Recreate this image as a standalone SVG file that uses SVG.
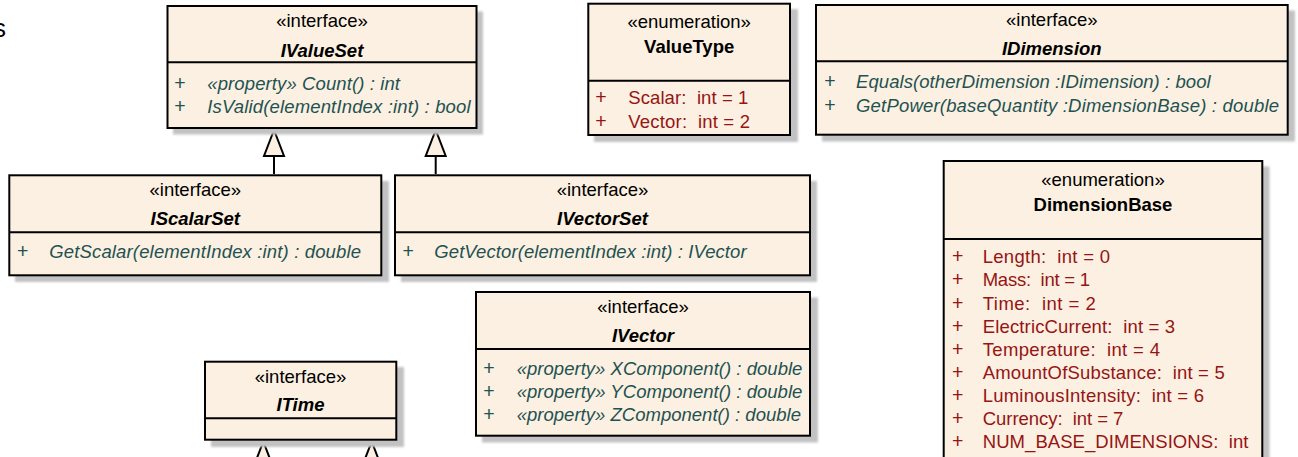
<svg xmlns="http://www.w3.org/2000/svg" width="1298" height="457" viewBox="0 0 1298 457">
<style>
text{font-family:"Liberation Sans",Arial,sans-serif;font-size:18.5px;fill:#000}
.c{text-anchor:middle}
.nm{font-weight:bold;font-style:italic}
.en{font-weight:bold}
.op{font-style:italic;fill:#1f5252}
.opp{fill:#1f5252;text-anchor:middle;font-size:19.5px}
.lit{fill:#961414;white-space:pre}
.litp{fill:#961414;text-anchor:middle;font-size:19.5px}
.box{fill:#fbf0e1;stroke:#000;stroke-width:2}
.sh{fill:#c2c2c2;filter:url(#blur)}
.div{stroke:#000;stroke-width:2}
.con{fill:none;stroke:#000;stroke-width:2;marker-end:url(#gen)}
</style>
<defs>
<filter id="blur" x="-5%" y="-5%" width="110%" height="110%"><feGaussianBlur stdDeviation="1.2"/></filter>
<marker id="gen" markerUnits="userSpaceOnUse" viewBox="-28 -12 30 24" refX="0" refY="0" markerWidth="30" markerHeight="24" orient="auto">
<path d="M0,0 L-26,-10 L-26,10 Z" fill="#fbf0e1" stroke="#000" stroke-width="2" stroke-linejoin="miter"/>
</marker>
</defs>
<rect width="1298" height="457" fill="#fff"/>
<text x="-7" y="36.5" style="font-size:26px">s</text>

<g id="connectors">
<path class="con" d="M274,174 L274,130"/>
<path class="con" d="M435.7,174 L435.7,130"/>
<path class="con" d="M263.3,475 L263.3,441.5"/>
<path class="con" d="M371.7,475 L371.7,441.5"/>
</g>

<g id="IValueSet">
<rect class="sh" x="173" y="11.5" width="310" height="123"/>
<rect class="box" x="167.5" y="6" width="309" height="122"/>
<line class="div" x1="167.5" y1="62.3" x2="476.5" y2="62.3"/>
<text class="c" x="322" y="27.3">«interface»</text>
<text class="c nm" x="322" y="57.3">IValueSet</text>
<text class="opp" x="180" y="90">+</text>
<text class="op" x="207.3" y="90" textLength="192.7" lengthAdjust="spacing">«property» Count() : int</text>
<text class="opp" x="180" y="112.7">+</text>
<text class="op" x="207.3" y="112.7" textLength="263.3" lengthAdjust="spacing">IsValid(elementIndex :int) : bool</text>
</g>

<g id="IScalarSet">
<rect class="sh" x="15" y="181" width="374" height="101"/>
<rect class="box" x="9.3" y="175.3" width="372" height="100"/>
<line class="div" x1="9.3" y1="232.3" x2="381.3" y2="232.3"/>
<text class="c" x="195.3" y="196">«interface»</text>
<text class="c nm" x="195.3" y="225">IScalarSet</text>
<text class="opp" x="22.7" y="257.7">+</text>
<text class="op" x="49.3" y="257.7" textLength="311.7" lengthAdjust="spacing">GetScalar(elementIndex :int) : double</text>
</g>

<g id="IVectorSet">
<rect class="sh" x="401" y="181" width="416" height="101"/>
<rect class="box" x="395" y="175.3" width="415" height="100"/>
<line class="div" x1="395" y1="232.3" x2="810" y2="232.3"/>
<text class="c" x="602.5" y="196">«interface»</text>
<text class="c nm" x="602.5" y="225">IVectorSet</text>
<text class="opp" x="408.3" y="257.7">+</text>
<text class="op" x="434.3" y="257.7" textLength="312.3" lengthAdjust="spacing">GetVector(elementIndex :int) : IVector</text>
</g>

<g id="ValueType">
<rect class="sh" x="594" y="9" width="204" height="133"/>
<rect class="box" x="588.3" y="3.7" width="201.7" height="131.3"/>
<line class="div" x1="588.3" y1="80.7" x2="790" y2="80.7"/>
<text class="c" x="689.2" y="28.3">«enumeration»</text>
<text class="c en" x="689.2" y="53.3">ValueType</text>
<text class="litp" x="601" y="104.3">+</text>
<text class="lit" x="628.3" y="104.3" textLength="120" lengthAdjust="spacing">Scalar:  int = 1</text>
<text class="litp" x="601" y="127.7">+</text>
<text class="lit" x="628.3" y="127.7" textLength="121.7" lengthAdjust="spacing">Vector:  int = 2</text>
</g>

<g id="IDimension">
<rect class="sh" x="822" y="10.5" width="473" height="131"/>
<rect class="box" x="816" y="5" width="471.7" height="129.7"/>
<line class="div" x1="816" y1="61.3" x2="1287.7" y2="61.3"/>
<text class="c" x="1051.8" y="26">«interface»</text>
<text class="c nm" x="1051.8" y="55">IDimension</text>
<text class="opp" x="830" y="87.7">+</text>
<text class="op" x="856" y="87.7" textLength="354.7" lengthAdjust="spacing">Equals(otherDimension :IDimension) : bool</text>
<text class="opp" x="830" y="111.7">+</text>
<text class="op" x="856" y="111.7" textLength="423" lengthAdjust="spacing">GetPower(baseQuantity :DimensionBase) : double</text>
</g>

<g id="DimensionBase">
<rect class="sh" x="949.5" y="166.5" width="320" height="320"/>
<rect class="box" x="943.7" y="161" width="318.6" height="320"/>
<line class="div" x1="943.7" y1="239" x2="1262.3" y2="239"/>
<text class="c" x="1103" y="186">«enumeration»</text>
<text class="c en" x="1103" y="210.7">DimensionBase</text>
<text class="litp" x="957.7" y="263.3">+</text>
<text class="lit" x="982.7" y="263.3" textLength="127.3" lengthAdjust="spacing">Length:  int = 0</text>
<text class="litp" x="957.7" y="286.4">+</text>
<text class="lit" x="982.7" y="286.4" textLength="107.3" lengthAdjust="spacing">Mass:  int = 1</text>
<text class="litp" x="957.7" y="309.5">+</text>
<text class="lit" x="982.7" y="309.5" textLength="113" lengthAdjust="spacing">Time:  int = 2</text>
<text class="litp" x="957.7" y="332.6">+</text>
<text class="lit" x="982.7" y="332.6" textLength="192.3" lengthAdjust="spacing">ElectricCurrent:  int = 3</text>
<text class="litp" x="957.7" y="355.7">+</text>
<text class="lit" x="982.7" y="355.7" textLength="177.3" lengthAdjust="spacing">Temperature:  int = 4</text>
<text class="litp" x="957.7" y="378.8">+</text>
<text class="lit" x="982.7" y="378.8" textLength="242" lengthAdjust="spacing">AmountOfSubstance:  int = 5</text>
<text class="litp" x="957.7" y="401.9">+</text>
<text class="lit" x="982.7" y="401.9" textLength="221.3" lengthAdjust="spacing">LuminousIntensity:  int = 6</text>
<text class="litp" x="957.7" y="425">+</text>
<text class="lit" x="982.7" y="425" textLength="140.7" lengthAdjust="spacing">Currency:  int = 7</text>
<text class="litp" x="957.7" y="448.2">+</text>
<text class="lit" x="982.7" y="448.2" textLength="265.7" lengthAdjust="spacing">NUM_BASE_DIMENSIONS:  int</text>
</g>

<g id="IVector">
<rect class="sh" x="482" y="297.5" width="336" height="145"/>
<rect class="box" x="476" y="292" width="334" height="143.7"/>
<line class="div" x1="476" y1="349" x2="810" y2="349"/>
<text class="c" x="643" y="313.3">«interface»</text>
<text class="c nm" x="643" y="341.7">IVector</text>
<text class="opp" x="489" y="375">+</text>
<text class="op" x="516.7" y="375" textLength="285.7" lengthAdjust="spacing">«property» XComponent() : double</text>
<text class="opp" x="489" y="398.3">+</text>
<text class="op" x="516.7" y="398.3" textLength="285.7" lengthAdjust="spacing">«property» YComponent() : double</text>
<text class="opp" x="489" y="420.7">+</text>
<text class="op" x="516.7" y="420.7" textLength="284.3" lengthAdjust="spacing">«property» ZComponent() : double</text>
</g>

<g id="ITime">
<rect class="sh" x="211" y="367" width="193" height="80"/>
<rect class="box" x="205" y="361.7" width="191.3" height="78"/>
<line class="div" x1="205" y1="418.3" x2="396.3" y2="418.3"/>
<text class="c" x="300.5" y="383.3">«interface»</text>
<text class="c nm" x="300.5" y="410.7">ITime</text>
</g>
</svg>
